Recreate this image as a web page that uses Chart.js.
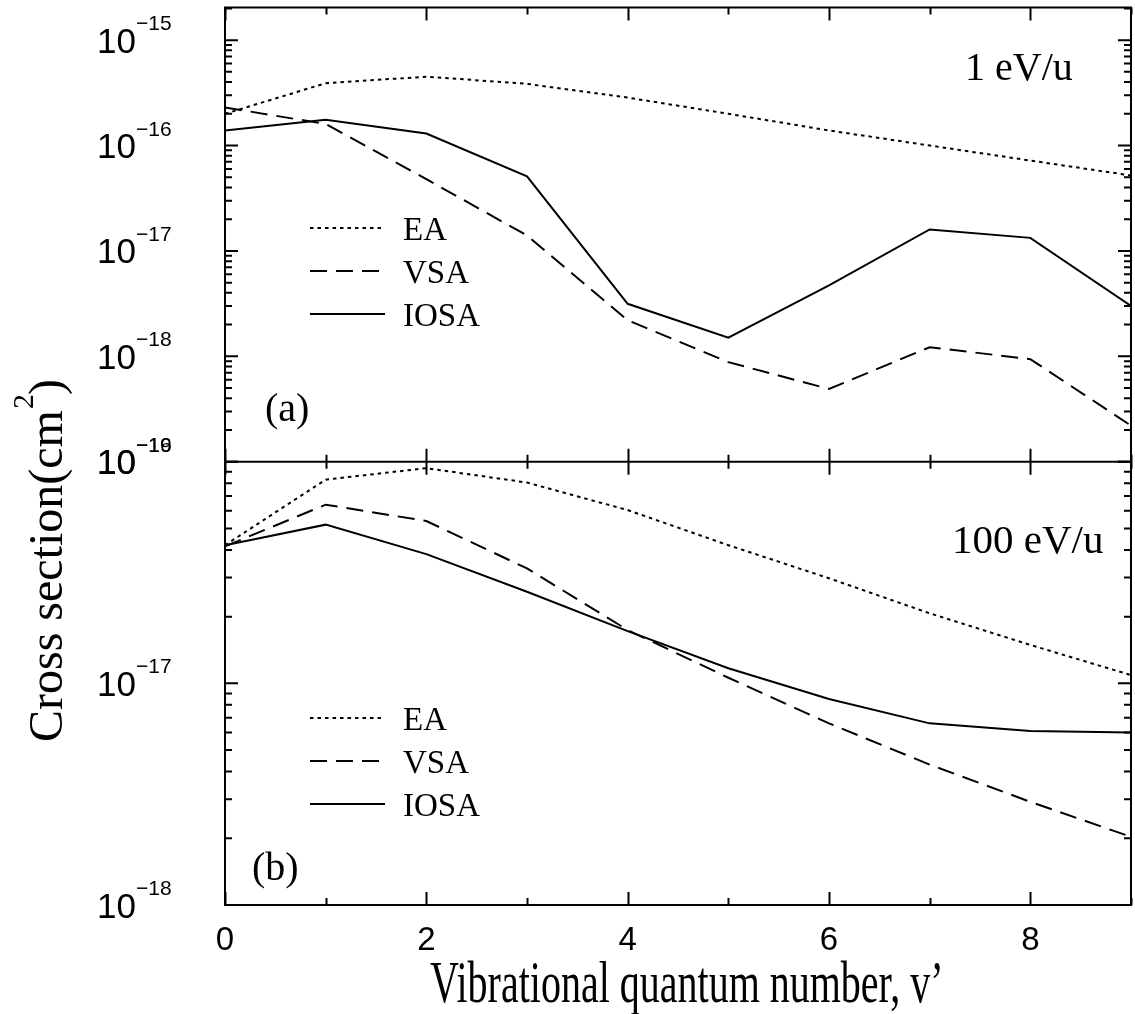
<!DOCTYPE html>
<html>
<head>
<meta charset="utf-8">
<script src="https://cdn.jsdelivr.net/npm/chart.js@4.4.1/dist/chart.umd.min.js"></script>
<style>
  html, body { margin: 0; padding: 0; background: #fff; }
  canvas { display: block; }
</style>
</head>
<body>
<canvas id="chart" width="1135" height="1014"></canvas>
<script>
// Final vibrational level v'
const vLevels = [0, 1, 2, 3, 4, 5, 6, 7, 8, 9];

// Cross sections (cm^2) at 1 eV/u
const ea1   = [2.0e-16, 3.9e-16, 4.5e-16, 3.85e-16, 2.85e-16, 2.0e-16, 1.39e-16, 1.0e-16, 7.2e-17, 5.2e-17];
const vsa1  = [2.3e-16, 1.6e-16, 4.8e-17, 1.4e-17, 2.2e-18, 8.8e-19, 4.9e-19, 1.22e-18, 9.4e-19, 2.2e-19];
const iosa1 = [1.39e-16, 1.76e-16, 1.3e-16, 5.1e-17, 3.15e-18, 1.5e-18, 4.7e-18, 1.6e-17, 1.33e-17, 3.0e-18];

// Cross sections (cm^2) at 100 eV/u
const ea100   = [4.2e-17, 8.3e-17, 9.35e-17, 8.05e-17, 6.05e-17, 4.2e-17, 2.98e-17, 2.07e-17, 1.49e-17, 1.09e-17];
const vsa100  = [4.15e-17, 6.4e-17, 5.4e-17, 3.3e-17, 1.74e-17, 1.06e-17, 6.6e-18, 4.3e-18, 2.92e-18, 2.03e-18];
const iosa100 = [4.2e-17, 5.2e-17, 3.83e-17, 2.59e-17, 1.72e-17, 1.17e-17, 8.5e-18, 6.6e-18, 6.1e-18, 6.0e-18];

// Axis labelling
const xTickLabels = [0, 2, 4, 6, 8];
const topExponents = [-15, -16, -17, -18, -19];
const bottomExponents = [-16, -17, -18];
const seriesNames = ['EA', 'VSA', 'IOSA'];
const panelLabels = ['(a)', '(b)'];
const energyLabels = ['1 eV/u', '100 eV/u'];
const xTitle = 'Vibrational quantum number, v\u2019';
const yTitle = 'Cross section(cm';

// Line styles per approximation
const dashes = [[3.5, 4], [17, 9], []];
const widths = [2, 2, 2];

function pts(values) {
  return vLevels.map((v, i) => ({ x: v, y: values[i] }));
}

function series(values, k, axis) {
  return {
    label: seriesNames[k],
    data: pts(values),
    yAxisID: axis,
    borderColor: '#000',
    borderWidth: widths[k],
    borderDash: dashes[k],
    pointRadius: 0,
    fill: false,
    tension: 0
  };
}

const SANS = '"Liberation Sans", Arial, sans-serif';
const SERIF = '"Liberation Serif", "Times New Roman", serif';

const framePlugin = {
  id: 'frame',
  beforeDraw(chart) {
    const ctx = chart.ctx;
    ctx.save();
    ctx.fillStyle = '#fff';
    ctx.fillRect(0, 0, chart.width, chart.height);
    ctx.restore();
  },
  afterDraw(chart) {
    const { ctx, chartArea: a, scales } = chart;
    const xs = scales.x, yA = scales.yA, yB = scales.yB;
    const mid = yA.bottom;
    ctx.save();
    ctx.strokeStyle = '#000';
    ctx.fillStyle = '#000';
    ctx.lineCap = 'butt';

    // box and panel divider
    ctx.lineWidth = 2;
    ctx.strokeRect(a.left, a.top, a.right - a.left, a.bottom - a.top);
    ctx.beginPath();
    ctx.moveTo(a.left, mid);
    ctx.lineTo(a.right, mid);
    ctx.stroke();

    // x ticks (inward on top, both ways on the divider, upward on bottom)
    ctx.lineWidth = 2;
    ctx.beginPath();
    for (let v = 0; v <= 9; v++) {
      const px = Math.round(xs.getPixelForValue(v)) + 0.5;
      const len = v % 2 === 0 ? 13 : 7;
      ctx.moveTo(px, a.top); ctx.lineTo(px, a.top + len);
      ctx.moveTo(px, mid - len); ctx.lineTo(px, mid + len);
      ctx.moveTo(px, a.bottom); ctx.lineTo(px, a.bottom - len);
    }
    ctx.stroke();

    // log y ticks on both sides of each panel
    function yTicks(scale) {
      const lo = Math.floor(Math.log10(scale.min));
      const hi = Math.ceil(Math.log10(scale.max));
      ctx.beginPath();
      for (let e = lo; e <= hi; e++) {
        for (let m = 1; m <= 9; m++) {
          const val = m * Math.pow(10, e);
          if (val < scale.min * 0.999 || val > scale.max * 1.001) continue;
          const py = scale.getPixelForValue(val);
          const len = m === 1 ? 13 : 7;
          ctx.moveTo(a.left, py); ctx.lineTo(a.left + len, py);
          ctx.moveTo(a.right - len, py); ctx.lineTo(a.right, py);
        }
      }
      ctx.stroke();
    }
    ctx.lineWidth = 2;
    yTicks(yA);
    yTicks(yB);

    // y tick labels 10^n
    function yLabels(scale, exps) {
      exps.forEach(e => {
        const py = scale.getPixelForValue(Math.pow(10, e));
        ctx.font = '35px ' + SANS;
        ctx.textAlign = 'right';
        ctx.textBaseline = 'alphabetic';
        ctx.fillText('10', 136, py + 12.5);
        ctx.font = '21px ' + SANS;
        ctx.textAlign = 'left';
        ctx.fillText('\u2212' + String(-e), 136, py - 10);
      });
    }
    yLabels(yA, topExponents);
    yLabels(yB, bottomExponents);

    // x tick labels
    ctx.font = '33px ' + SANS;
    ctx.textAlign = 'center';
    ctx.textBaseline = 'alphabetic';
    xTickLabels.forEach(v => {
      ctx.fillText(String(v), xs.getPixelForValue(v), a.bottom + 45);
    });

    // x title (tall serif lettering)
    ctx.save();
    ctx.font = '40px ' + SERIF;
    ctx.textAlign = 'left';
    ctx.translate(430, 1002);
    ctx.scale(1, 1.48);
    ctx.fillText(xTitle, 0, 0);
    ctx.restore();

    // y title, rotated, with superscript 2
    ctx.save();
    ctx.translate(62, 742);
    ctx.rotate(-Math.PI / 2);
    ctx.font = '48px ' + SERIF;
    ctx.textAlign = 'left';
    ctx.fillText(yTitle, 0, 0);
    const w = ctx.measureText(yTitle).width;
    ctx.fillText(')', w + 15, 0);
    ctx.font = '30px ' + SERIF;
    ctx.fillText('2', w + 1, -29);
    ctx.restore();

    // legends, panel tags and energy labels
    const panelTops = [yA.top, yB.top];
    const legendBase = [232.5, 268.3];
    const tagPos = [[265, 413.5], [252, 418.3]];
    const energyPos = [[965, 72.5, 40], [952, 91.3, 41]];
    for (let p = 0; p < 2; p++) {
      const t = panelTops[p];
      for (let k = 0; k < 3; k++) {
        const by = t + legendBase[p] + k * 43;
        const ly = by - 12;
        ctx.lineWidth = widths[k];
        ctx.setLineDash(dashes[k]);
        ctx.beginPath();
        ctx.moveTo(310, ly);
        ctx.lineTo(385, ly);
        ctx.stroke();
        ctx.setLineDash([]);
        ctx.font = '33px ' + SERIF;
        ctx.textAlign = 'left';
        ctx.fillText(seriesNames[k], 403, by);
      }
      ctx.font = '40px ' + SERIF;
      ctx.fillText(panelLabels[p], tagPos[p][0], t + tagPos[p][1]);
      ctx.font = energyPos[p][2] + 'px ' + SERIF;
      ctx.fillText(energyLabels[p], energyPos[p][0], t + energyPos[p][1]);
    }
    ctx.restore();
  }
};

const hiddenAxis = {
  ticks: { display: false },
  grid: { display: false },
  border: { display: false }
};

new Chart(document.getElementById('chart').getContext('2d'), {
  type: 'line',
  data: {
    datasets: [
      series(ea1, 0, 'yA'),
      series(vsa1, 1, 'yA'),
      series(iosa1, 2, 'yA'),
      series(ea100, 0, 'yB'),
      series(vsa100, 1, 'yB'),
      series(iosa100, 2, 'yB')
    ]
  },
  options: {
    responsive: false,
    animation: false,
    devicePixelRatio: 1,
    layout: { padding: { top: 7.5, right: 4, bottom: 0, left: 0 } },
    plugins: { legend: { display: false }, tooltip: { enabled: false } },
    scales: {
      x: Object.assign({
        type: 'linear', min: 0, max: 9, position: 'bottom',
        afterFit(s) { s.height = 109; }
      }, hiddenAxis),
      yB: Object.assign({
        type: 'logarithmic', position: 'left', stack: 'panels', stackWeight: 443.3,
        min: 1e-18, max: 1e-16,
        afterFit(s) { s.width = 225; }
      }, hiddenAxis),
      yA: Object.assign({
        type: 'logarithmic', position: 'left', stack: 'panels', stackWeight: 454.2,
        min: 1e-19, max: 2.04e-15,
        afterFit(s) { s.width = 225; }
      }, hiddenAxis)
    }
  },
  plugins: [framePlugin]
});
</script>
</body>
</html>
